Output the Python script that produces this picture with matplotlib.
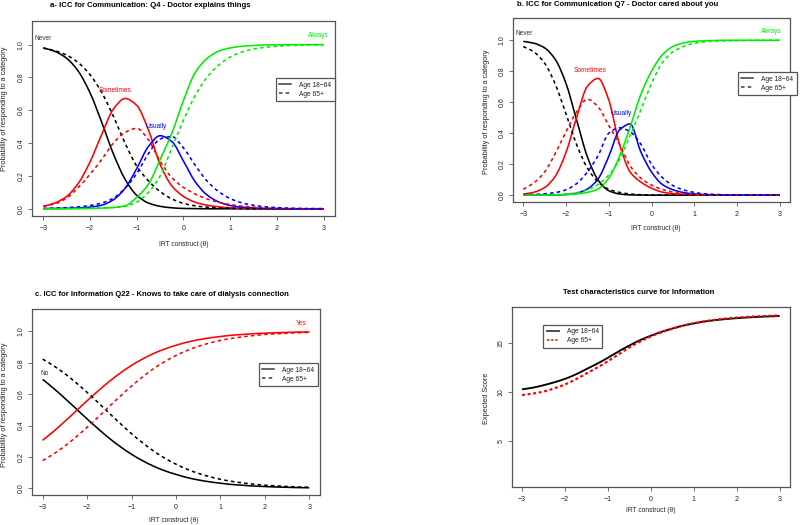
import matplotlib
matplotlib.use('Agg')
import matplotlib.pyplot as plt
from matplotlib.lines import Line2D
from matplotlib.path import Path
from matplotlib.patches import PathPatch

plt.rcParams['font.family'] = ['Liberation Sans', 'DejaVu Sans']

# ---------------- data ----------------
theta = [-3.0, -2.75, -2.5, -2.25, -2.0, -1.75, -1.5, -1.25, -1.0, -0.75, -0.5, -0.25,
         0.0, 0.25, 0.5, 0.75, 1.0, 1.25, 1.5, 1.75, 2.0, 2.25, 2.5, 2.75, 3.0]
x_ticks = [-3, -2, -1, 0, 1, 2, 3]
p_ticks = [0.0, 0.2, 0.4, 0.6, 0.8, 1.0]
p_tick_labels = ["0.0", "0.2", "0.4", "0.6", "0.8", "1.0"]
score_ticks = [5, 10, 15]

# Panel a: Q4 - Doctor explains things (Never, Sometimes, Usually, Always)
a_never_1864 = [0.980, 0.959, 0.917, 0.838, 0.707, 0.528, 0.335, 0.180, 0.082, 0.035, 0.015, 0.006,
                0.002, 0.001, 0, 0, 0, 0, 0, 0, 0, 0, 0, 0, 0]
a_some_1864 = [0.015, 0.035, 0.075, 0.155, 0.285, 0.452, 0.607, 0.672, 0.630, 0.480, 0.270, 0.140,
               0.075, 0.040, 0.022, 0.012, 0.006, 0.003, 0.001, 0, 0, 0, 0, 0, 0]
a_usual_1864 = [0.001, 0.002, 0.003, 0.005, 0.010, 0.022, 0.055, 0.125, 0.245, 0.380, 0.445, 0.410,
                0.290, 0.165, 0.085, 0.042, 0.020, 0.010, 0.005, 0.002, 0.001, 0, 0, 0, 0]
a_always_1864 = [0, 0, 0, 0.001, 0.002, 0.004, 0.008, 0.018, 0.070, 0.150, 0.300, 0.460,
                 0.660, 0.830, 0.915, 0.960, 0.980, 0.990, 0.995, 0.998, 0.999, 1, 1, 1, 1]
a_never_65 = [0.979, 0.963, 0.936, 0.890, 0.817, 0.709, 0.564, 0.400, 0.260, 0.170, 0.105, 0.060,
              0.033, 0.018, 0.010, 0.005, 0.003, 0.001, 0, 0, 0, 0, 0, 0, 0]
a_some_65 = [0.015, 0.030, 0.065, 0.130, 0.210, 0.300, 0.400, 0.465, 0.490, 0.420, 0.290, 0.190,
             0.130, 0.090, 0.060, 0.040, 0.026, 0.016, 0.010, 0.006, 0.003, 0.001, 0, 0, 0]
a_usual_65 = [0.002, 0.004, 0.007, 0.012, 0.020, 0.035, 0.065, 0.125, 0.215, 0.335, 0.425, 0.440,
              0.370, 0.265, 0.170, 0.105, 0.062, 0.036, 0.021, 0.012, 0.007, 0.004, 0.002, 0.001, 0.001]
a_always_65 = [0, 0, 0.001, 0.002, 0.003, 0.005, 0.008, 0.015, 0.040, 0.100, 0.200, 0.370,
               0.540, 0.690, 0.800, 0.875, 0.925, 0.955, 0.973, 0.984, 0.990, 0.994, 0.997, 0.998, 0.999]

# Panel b: Q7 - Doctor cared about you
b_never_1864 = [0.993, 0.981, 0.951, 0.876, 0.721, 0.484, 0.248, 0.098, 0.029, 0.008, 0.002, 0.001,
                0, 0, 0, 0, 0, 0, 0, 0, 0, 0, 0, 0, 0]
b_some_1864 = [0.007, 0.019, 0.049, 0.123, 0.276, 0.504, 0.703, 0.754, 0.615, 0.330, 0.150, 0.085,
               0.045, 0.020, 0.010, 0.005, 0.002, 0.001, 0, 0, 0, 0, 0, 0, 0]
b_usual_1864 = [0, 0, 0.001, 0.002, 0.004, 0.013, 0.040, 0.105, 0.250, 0.420, 0.460, 0.280,
                0.150, 0.070, 0.035, 0.017, 0.008, 0.004, 0.002, 0.001, 0, 0, 0, 0, 0]
b_always_1864 = [0, 0, 0.001, 0.002, 0.004, 0.008, 0.018, 0.040, 0.110, 0.250, 0.440, 0.650,
                 0.800, 0.905, 0.960, 0.983, 0.993, 0.997, 0.999, 1, 1, 1, 1, 1, 1]
b_never_65 = [0.960, 0.925, 0.852, 0.716, 0.525, 0.326, 0.175, 0.085, 0.039, 0.018, 0.008, 0.003,
              0.0015, 0.001, 0, 0, 0, 0, 0, 0, 0, 0, 0, 0, 0]
b_some_65 = [0.038, 0.080, 0.150, 0.270, 0.410, 0.540, 0.620, 0.570, 0.450, 0.330, 0.190, 0.110,
             0.065, 0.038, 0.020, 0.010, 0.005, 0.002, 0.001, 0, 0, 0, 0, 0, 0]
b_usual_65 = [0.003, 0.005, 0.009, 0.017, 0.035, 0.075, 0.150, 0.255, 0.400, 0.435, 0.410, 0.330,
              0.200, 0.115, 0.062, 0.034, 0.018, 0.009, 0.005, 0.002, 0.001, 0, 0, 0, 0]
b_always_65 = [0.0005, 0.001, 0.002, 0.004, 0.008, 0.016, 0.035, 0.070, 0.130, 0.230, 0.385, 0.550,
               0.720, 0.855, 0.925, 0.960, 0.980, 0.990, 0.995, 0.997, 0.998, 0.999, 1, 1, 1]

# Panel c: Q22 - Knows to take care of dialysis connection (No, Yes)
c_yes_1864 = [0.306, 0.364, 0.427, 0.492, 0.558, 0.621, 0.681, 0.735, 0.783, 0.824, 0.859, 0.888,
              0.911, 0.931, 0.946, 0.958, 0.967, 0.975, 0.980, 0.985, 0.988, 0.991, 0.993, 0.995, 0.996]
c_no_1864 = [0.694, 0.636, 0.573, 0.508, 0.442, 0.379, 0.319, 0.265, 0.217, 0.176, 0.141, 0.112,
             0.089, 0.069, 0.054, 0.042, 0.033, 0.025, 0.020, 0.015, 0.012, 0.009, 0.007, 0.005, 0.004]
c_yes_65 = [0.177, 0.220, 0.270, 0.327, 0.389, 0.454, 0.522, 0.588, 0.652, 0.710, 0.763, 0.808,
            0.846, 0.878, 0.904, 0.925, 0.942, 0.955, 0.965, 0.973, 0.980, 0.984, 0.988, 0.991, 0.993]
c_no_65 = [0.823, 0.780, 0.730, 0.673, 0.611, 0.546, 0.478, 0.412, 0.348, 0.290, 0.237, 0.192,
           0.154, 0.122, 0.096, 0.075, 0.058, 0.045, 0.035, 0.027, 0.020, 0.016, 0.012, 0.009, 0.007]

# Panel d: Test characteristics curve for Information (expected score)
d_score_1864 = [10.28, 10.45, 10.70, 11.00, 11.35, 11.80, 12.35, 12.90, 13.50, 14.15, 14.75, 15.30,
                15.75, 16.15, 16.48, 16.78, 17.00, 17.20, 17.34, 17.45, 17.54, 17.61, 17.67, 17.72, 17.76]
d_score_65 = [9.70, 9.85, 10.05, 10.38, 10.78, 11.30, 11.90, 12.50, 13.15, 13.85, 14.55, 15.15,
              15.68, 16.10, 16.47, 16.78, 17.02, 17.22, 17.38, 17.50, 17.60, 17.67, 17.73, 17.78, 17.82]

legend_labels = ["Age 18\u221264", "Age 65+"]
titles = ["a- ICC for Communication: Q4 - Doctor explains things",
          "b. ICC for Communication Q7 - Doctor cared about you",
          "c. ICC for Information Q22 - Knows to take care of dialysis connection",
          "Test characteristics curve for Information"]
xlabel = "IRT construct (\u03b8)"
ylabel_icc = "Probability of responding to a category"
ylabel_tcc = "Expected Score"

# ---------------- drawing ----------------
W, H = 800, 525
fig = plt.figure(figsize=(8, 5.25), dpi=100)

FRAME = '#555555'
TXT = '#222222'
GREEN = '#00ee00'
LW = 1.15
DASH = (0, (2.2, 2.0))


def curve(ax, x, y, **kw):
    """Draw a smooth (monotone cubic Bezier) line through the read values."""
    n = len(x)
    h = [x[i + 1] - x[i] for i in range(n - 1)]
    d = [(y[i + 1] - y[i]) / h[i] for i in range(n - 1)]
    m = [0.0] * n
    m[0], m[-1] = d[0], d[-1]
    for k in range(1, n - 1):
        if d[k - 1] * d[k] <= 0:
            m[k] = 0.0
        else:
            w1 = 2 * h[k] + h[k - 1]
            w2 = h[k] + 2 * h[k - 1]
            m[k] = (w1 + w2) / (w1 / d[k - 1] + w2 / d[k])
    verts = [(x[0], y[0])]
    codes = [Path.MOVETO]
    for i in range(n - 1):
        verts += [(x[i] + h[i] / 3, y[i] + m[i] * h[i] / 3),
                  (x[i + 1] - h[i] / 3, y[i + 1] - m[i + 1] * h[i] / 3),
                  (x[i + 1], y[i + 1])]
        codes += [Path.CURVE4] * 3
    patch = PathPatch(Path(verts, codes), fill=False, capstyle='butt', joinstyle='round', **kw)
    ax.add_patch(patch)
    return patch


def px_axes(l, t, r, b):
    return fig.add_axes([l / W, 1 - b / H, (r - l) / W, (b - t) / H])


def ftext(x, y, s, **kw):
    fig.text(x / W, 1 - y / H, s, ha='center', va='center', **kw)


def style(ax, ylim, yticks, yticklabels=None):
    ax.set_xlim(-3.24, 3.24)
    ax.set_ylim(*ylim)
    ax.set_xticks(x_ticks)
    ax.set_xticklabels([str(v).replace('-', '\u2212') for v in x_ticks])
    ax.set_yticks(yticks)
    if yticklabels is not None:
        ax.set_yticklabels(yticklabels)
    for s in ax.spines.values():
        s.set_color(FRAME)
        s.set_linewidth(0.9)
    ax.tick_params(direction='out', length=2.6, width=0.6, colors=FRAME,
                   labelcolor=TXT, labelsize=5.0)
    ax.tick_params(axis='x', pad=3.6)
    ax.tick_params(axis='y', pad=2.6, labelrotation=90)
    for lab in ax.get_yticklabels():
        lab.set_va('center')


def add_legend(ax, anchor, handles, loc='upper left'):
    leg = ax.legend(handles, legend_labels, loc=loc, bbox_to_anchor=anchor,
                    borderaxespad=0, fontsize=4.8, frameon=True, fancybox=False,
                    framealpha=1, edgecolor=FRAME, handlelength=1.8, handletextpad=1.2,
                    labelspacing=0.3, borderpad=0.55)
    leg.get_frame().set_linewidth(0.9)
    for t in leg.get_texts():
        t.set_color(TXT)
    return leg


grey_handles = [Line2D([], [], color='#444444', lw=LW),
                Line2D([], [], color='#444444', lw=LW, linestyle=DASH)]


def cat_label(ax, x, y, s, color):
    ax.text(x, y, s, color=color, fontsize=4.7, ha='center', va='center')


# ---- panel a
ax = px_axes(32, 21, 335, 216)
for ys, col in [(a_never_1864, 'black'), (a_some_1864, '#ff0000'),
                (a_usual_1864, '#0000ff'), (a_always_1864, GREEN)]:
    curve(ax, theta, ys, edgecolor=col, lw=LW)
for ys, col in [(a_never_65, 'black'), (a_some_65, '#ff0000'),
                (a_usual_65, '#0000ff'), (a_always_65, GREEN)]:
    curve(ax, theta, ys, edgecolor=col, lw=LW, linestyle=DASH)
style(ax, (-0.044, 1.144), p_ticks, p_tick_labels)
cat_label(ax, -3.0, 1.035, "Never", '#333333')
cat_label(ax, -1.47, 0.722, "Sometimes", '#ff0000')
cat_label(ax, -0.59, 0.499, "Usually", '#0000ff')
cat_label(ax, 2.88, 1.055, "Always", GREEN)
add_legend(ax, (1.0, 0.708), grey_handles, loc='upper right')

# ---- panel b
ax = px_axes(513, 18, 790, 202)
for ys, col in [(b_never_1864, 'black'), (b_some_1864, '#ff0000'),
                (b_usual_1864, '#0000ff'), (b_always_1864, GREEN)]:
    curve(ax, theta, ys, edgecolor=col, lw=LW)
for ys, col in [(b_never_65, 'black'), (b_some_65, '#ff0000'),
                (b_usual_65, '#0000ff'), (b_always_65, GREEN)]:
    curve(ax, theta, ys, edgecolor=col, lw=LW, linestyle=DASH)
style(ax, (-0.044, 1.144), p_ticks, p_tick_labels)
cat_label(ax, -2.98, 1.047, "Never", '#333333')
cat_label(ax, -1.45, 0.808, "Sometimes", '#ff0000')
cat_label(ax, -0.70, 0.528, "Usually", '#0000ff')
cat_label(ax, 2.81, 1.056, "Always", GREEN)
leg = add_legend(ax, ((797 - 513) / 277, 0.707), grey_handles, loc='upper right')

# ---- panel c
ax = px_axes(32, 308.7, 320, 495.3)
curve(ax, theta, c_no_1864, edgecolor='black', lw=LW)
curve(ax, theta, c_yes_1864, edgecolor='#ff0000', lw=LW)
curve(ax, theta, c_no_65, edgecolor='black', lw=LW, linestyle=DASH)
curve(ax, theta, c_yes_65, edgecolor='#ff0000', lw=LW, linestyle=DASH)
style(ax, (-0.044, 1.144), p_ticks, p_tick_labels)
cat_label(ax, -2.96, 0.734, "No", '#333333')
cat_label(ax, 2.82, 1.047, "Yes", '#ff0000')
add_legend(ax, ((318 - 32) / 288, 0.709), grey_handles, loc='upper right')

# ---- panel d
ax = px_axes(511.7, 307, 790, 487)
curve(ax, theta, d_score_1864, edgecolor='black', lw=LW + 0.2)
curve(ax, theta, d_score_65, edgecolor='#ff0000', lw=LW + 0.4, linestyle=(0, (1.4, 1.2)))
style(ax, (0.32, 18.68), score_ticks)
d_handles = [Line2D([], [], color='#444444', lw=LW + 0.2),
             Line2D([], [], color='#ff0000', lw=LW, linestyle=(0, (1.4, 1.2)))]
add_legend(ax, (0.1125, 0.902), d_handles)

# ---- titles and axis labels
ftext(150, 5.5, titles[0], fontsize=5.6, fontweight='bold', color='black')
ftext(617.5, 4.5, titles[1], fontsize=5.6, fontweight='bold', color='black')
ftext(162, 294.3, titles[2], fontsize=5.5, fontweight='bold', color='black')
ftext(639, 292.7, titles[3], fontsize=5.6, fontweight='bold', color='black')

ftext(183.7, 244, xlabel, fontsize=4.8, color=TXT)
ftext(656, 228.7, xlabel, fontsize=4.8, color=TXT)
ftext(173.3, 520.3, xlabel, fontsize=4.8, color=TXT)
ftext(650.7, 511, xlabel, fontsize=4.8, color=TXT)

ftext(5, 109, ylabel_icc, fontsize=5.3, color=TXT, rotation=90)
ftext(487, 112, ylabel_icc, fontsize=5.3, color=TXT, rotation=90)
ftext(5, 405, ylabel_icc, fontsize=5.3, color=TXT, rotation=90)
ftext(487, 398.7, ylabel_tcc, fontsize=5.3, color=TXT, rotation=90)

fig.savefig('out.png', dpi=100)
